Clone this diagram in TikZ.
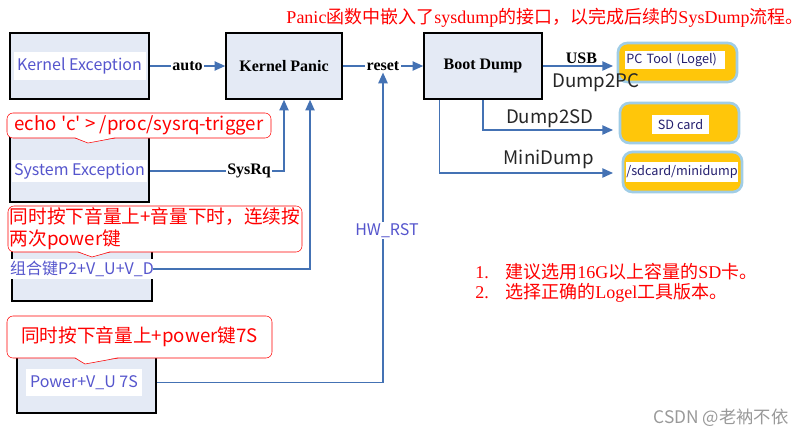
\documentclass[tikz,border=0pt]{standalone}
\usepackage{fontspec}
\setmainfont{Liberation Serif}
\newfontfamily\cjk{Noto Sans CJK SC}
\usetikzlibrary{arrows.meta,calc}

\definecolor{boxfill}{RGB}{228,234,245}
\definecolor{flowblue}{RGB}{68,114,180}
\definecolor{txtblue}{RGB}{85,85,205}
\definecolor{sdyellow}{RGB}{255,198,10}
\definecolor{sdrim}{RGB}{160,205,230}
\definecolor{navy}{RGB}{35,30,110}

\tikzset{
  box/.style={draw=black, line width=1.2pt, fill=boxfill},
  strip/.style={fill=white, text=txtblue, font=\cjk\fontsize{12}{14}\selectfont, inner sep=0pt},
  flow/.style={draw=flowblue, line width=1pt, -{Triangle[length=8pt,width=7pt]}},
  tag/.style={fill=white, inner sep=1pt, font=\bfseries\fontsize{12}{14}\selectfont},
  callout/.style={draw=red, fill=white, text=red, rounded corners=4.5pt, font=\cjk\fontsize{14}{16.5}\selectfont, inner sep=1pt},
  sdbox/.style={draw=sdrim, line width=2pt, fill=sdyellow, rounded corners=7pt, minimum width=89.25pt, minimum height=29.25pt},
  sdlabel/.style={fill=white, text=navy, font=\cjk\fontsize{9.5}{11}\selectfont, inner sep=0pt},
  branch/.style={font=\cjk\fontsize{14}{16}\selectfont, text=black!85, inner sep=1pt},
  note/.style={text=red, font=\fontsize{13.5}{16}\selectfont, anchor=west, inner sep=0pt}
}

\begin{document}
\begin{tikzpicture}[x=0.75pt, y=-0.75pt]
  \useasboundingbox (0,0) rectangle (806,436);

  % ---- heading ----
  \node[text=red, font=\fontsize{13.5}{16}\selectfont] (head) at (545,18)
    {Panic{\cjk 函数中嵌入了}sysdump{\cjk 的接口，以完成后续的}SysDump{\cjk 流程。}};

  % ---- main chain ----
  \node[box, minimum width=104.25pt, minimum height=49.5pt] (kexc) at (79.5,66) {};
  \node[strip, minimum width=99pt, minimum height=21pt] (kexct) at (kexc) {Kernel Exception};
  \node[box, tag, fill=boxfill, minimum width=87pt, minimum height=49.5pt] (kpanic) at (284,66) {Kernel Panic};
  \node[box, tag, fill=boxfill, minimum width=88.5pt, minimum height=49.5pt] (bdump) at (483,66) {Boot Dump};

  \draw[flow] (kexc) -- node[tag] (auto) {auto} (kpanic);
  \draw[flow] (kpanic) -- node[tag] (rst) {reset} (bdump);

  % ---- triggers ----
  \node[box, minimum width=104.25pt, minimum height=49.5pt] (sysexc) at (79.5,169) {};
  \node[strip, minimum width=101pt, minimum height=16.5pt] (sysexct) at (79.5,171) {System Exception};
  \node[box, minimum width=105pt, minimum height=48pt] (combo) at (82,269) {};
  \node[strip, minimum width=102pt, minimum height=15pt] (combot) at (82,269) {组合键P2+V\_U+V\_D};
  \node[box, minimum width=104.25pt, minimum height=49.5pt] (power) at (86.5,380) {};
  \node[strip, minimum width=87pt, minimum height=20pt] (powert) at (84,382.5) {Power+V\_U 7S};

  \coordinate (kpin) at ($(kpanic.south)+(26,0)$);
  \draw[flow] (sysexc.east |- sysexct) -| node[tag, pos=0.37] (sysrq) {SysRq} (kpanic.south);
  \draw[flow] (combo.east |- combot) -| (kpin);
  \draw[flow] (power.east |- powert) -| node[pos=0.745, xshift=3pt, fill=white, text=txtblue, inner sep=1pt,
    font=\cjk\fontsize{12}{14}\selectfont] (hwrst) {HW\_RST} (rst.south);

  % ---- callouts ----
  \node[callout, minimum width=198pt, minimum height=18.75pt] (echo) at (139,125.5)
    {echo \textquotesingle c\textquotesingle\ > /proc/sysrq-trigger};
  \fill[white] (75,137.2) -- (88,143) -- (115,137.2) -- cycle;
  \draw[red] (75,138) -- (88,143) -- (115,138);

  \node[callout, minimum width=220.5pt, minimum height=34.5pt, align=left] (twice) at (155,229)
    {同时按下音量上+音量下时，连续按\\两次power键};
  \fill[white] (78,251.2) -- (92,257) -- (110,251.2) -- cycle;
  \draw[red] (78,252) -- (92,257) -- (110,252);

  \node[callout, minimum width=198.75pt, minimum height=31.5pt] (hold) at (139.5,337)
    {同时按下音量上+power键7S};
  \fill[white] (75,357.2) -- (85,364) -- (118,357.2) -- cycle;
  \draw[red] (75,358) -- (85,364) -- (118,358);

  % ---- dump targets ----
  \node[sdbox] (pctool) at (677.5,62.5) {};
  \node[sdlabel, text width=73pt, inner xsep=1pt, minimum height=13.5pt, align=left] (pctoolt) at (675,60) {PC Tool (Logel)};
  \node[sdbox, minimum height=30pt] (sdcard) at (679.5,123) {};
  \node[sdlabel, minimum width=42.75pt, minimum height=14.25pt] (sdcardt) at (680.5,124.5) {SD card};
  \node[sdbox, minimum height=30pt] (mini) at (682.5,172) {};
  \node[sdlabel, minimum width=82.5pt, minimum height=15pt] (minit) at (682,172) {/sdcard/minidump};

  \coordinate (usbin) at (613,66);
  \coordinate (sdin) at (613,130);
  \coordinate (mdout) at ($(bdump.south west)+(16,0)$);
  \coordinate (mdin) at (613,173);
  \draw[flow] (bdump) -- node[tag, fill=none, above, pos=0.55] (usb) {USB}
    node[branch, below=4pt, pos=0.7, xshift=3pt] (d2pc) {Dump2PC} (usbin);
  \draw[flow] (bdump.south) |- node[branch, above, pos=0.757] (d2sd) {Dump2SD} (sdin);
  \draw[flow] (mdout) |- node[branch, above=2pt, pos=0.815] (mdump) {MiniDump} (mdin);

  % ---- notes ----
  \node[note] (note1) at (475,272) {\makebox[22.5pt][l]{1.}{\cjk 建议选用}16G{\cjk 以上容量的}SD{\cjk 卡。}};
  \node[note] (note2) at (475,293) {\makebox[22.5pt][l]{2.}{\cjk 选择正确的}Logel{\cjk 工具版本。}};

  \node[text=black!40, font=\cjk\fontsize{13}{15}\selectfont] (mark) at (721,418) {CSDN @老衲不依};
\end{tikzpicture}
\end{document}
